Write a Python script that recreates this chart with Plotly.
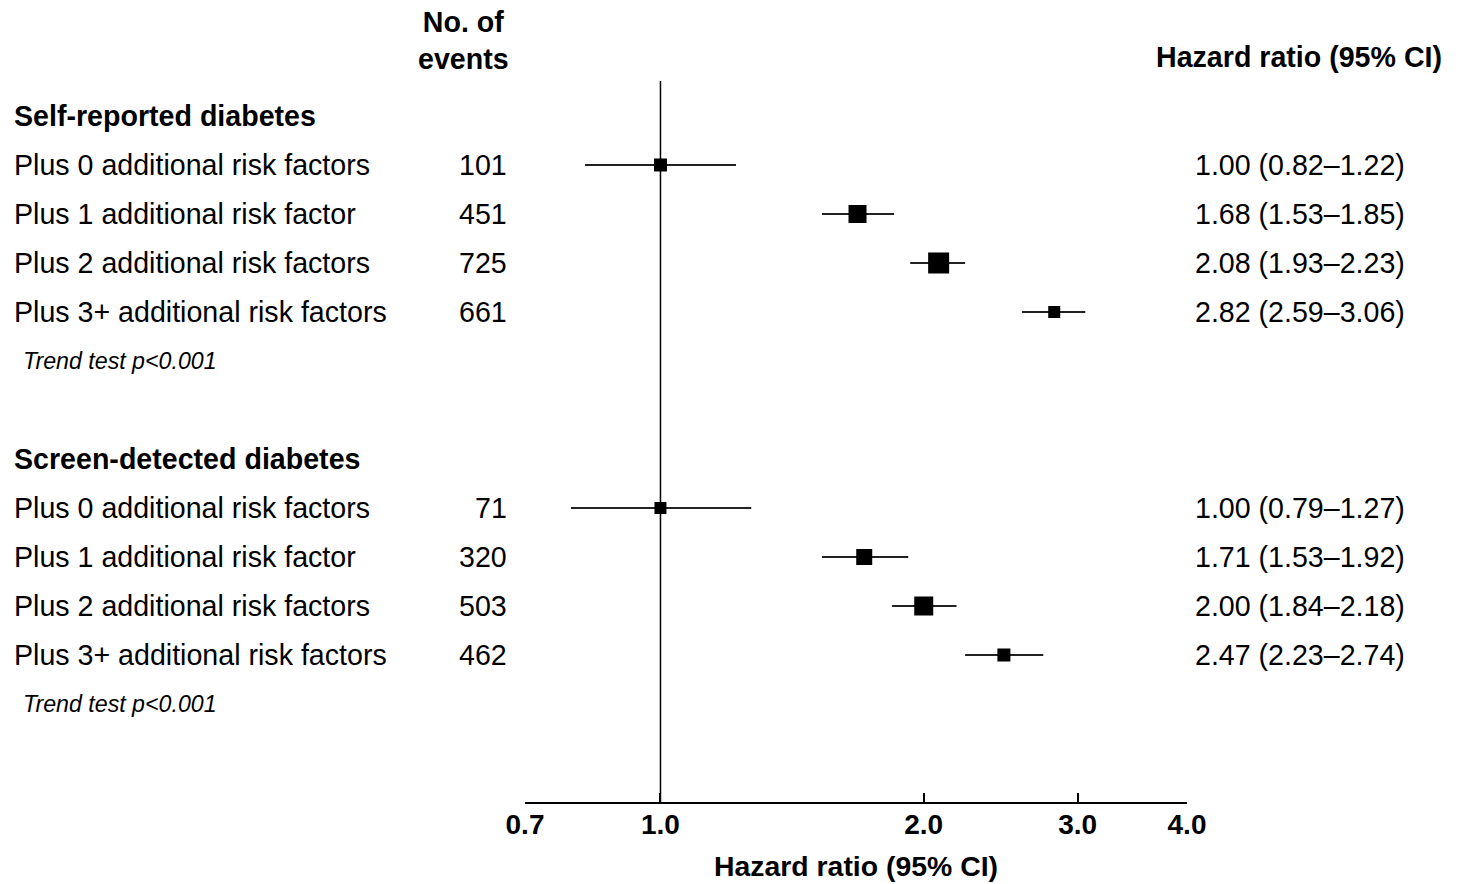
import plotly.graph_objects as go

# ---------------- data ----------------
groups = ["Self-reported diabetes", "Screen-detected diabetes"]
row_labels = ["Plus 0 additional risk factors", "Plus 1 additional risk factor",
              "Plus 2 additional risk factors", "Plus 3+ additional risk factors"]
events_sr = [101, 451, 725, 661]
hr_sr = [1.00, 1.68, 2.08, 2.82]
lo_sr = [0.82, 1.53, 1.93, 2.59]
hi_sr = [1.22, 1.85, 2.23, 3.06]
size_sr = [13, 18, 21, 12]

events_sd = [71, 320, 503, 462]
hr_sd = [1.00, 1.71, 2.00, 2.47]
lo_sd = [0.79, 1.53, 1.84, 2.23]
hi_sd = [1.27, 1.92, 2.18, 2.74]
size_sd = [12, 16, 19, 13]

trend_text = "Trend test p<0.001"
axis_title = "Hazard ratio (95% CI)"
tick_vals = [0.7, 1.0, 2.0, 3.0, 4.0]
tick_text = ["0.7", "1.0", "2.0", "3.0", "4.0"]

# row positions (row index units)
header_pos = [0, 7]
rows_sr = [1, 2, 3, 4]
rows_sd = [8, 9, 10, 11]
trend_pos = [5, 12]

FONT = "Liberation Sans, Arial, sans-serif"
FS = 28.6
W, H = 1461, 884
L, R, T, B = 525, 274, 81, 82
PW = W - L - R


def px_to_paper_x(px):
    return (px - L) / PW


def px_to_paper_y(py):
    return (H - B - py) / (H - T - B)


fig = go.Figure()

# confidence interval lines
for ys, lo, hi in [(rows_sr, lo_sr, hi_sr), (rows_sd, lo_sd, hi_sd)]:
    xs, yy = [], []
    for y, l, u in zip(ys, lo, hi):
        xs += [l, u, None]
        yy += [y, y, None]
    fig.add_trace(go.Scatter(x=xs, y=yy, mode="lines",
                             line=dict(color="#222222", width=2),
                             showlegend=False, hoverinfo="skip"))

# point estimates
for ys, hr, sz in [(rows_sr, hr_sr, size_sr), (rows_sd, hr_sd, size_sd)]:
    fig.add_trace(go.Scatter(
        x=hr, y=ys, mode="markers",
        marker=dict(symbol="square", size=sz, color="#000000", opacity=1,
                    line=dict(width=0)),
        showlegend=False, hoverinfo="skip"))

annotations = []


def add_text(text, x, y, xanchor, size=FS, yref="y", italic=False, bold=False,
             align="left", yanchor="middle"):
    if bold:
        text = "<b>" + text + "</b>"
    if italic:
        text = "<i>" + text + "</i>"
    annotations.append(dict(text=text, x=x, y=y, xref="paper", yref=yref,
                            xanchor=xanchor, yanchor=yanchor, showarrow=False,
                            align=align, font=dict(family=FONT, size=size, color="black")))


x_left = px_to_paper_x(12)
x_events = px_to_paper_x(509)
x_hr = px_to_paper_x(1407)

for g, hp in zip(groups, header_pos):
    add_text(g, x_left, hp, "left", bold=True)

for ys, ev, hr, lo, hi in [(rows_sr, events_sr, hr_sr, lo_sr, hi_sr),
                           (rows_sd, events_sd, hr_sd, lo_sd, hi_sd)]:
    for lab, y, e, h, l, u in zip(row_labels, ys, ev, hr, lo, hi):
        add_text(lab, x_left, y, "left")
        add_text(str(e), x_events, y, "right")
        add_text(f"{h:.2f} ({l:.2f}\u2013{u:.2f})", x_hr, y, "right")

for tp in trend_pos:
    add_text(trend_text, px_to_paper_x(21), tp, "left", size=23.2, italic=True)

add_text("No. of<br>events", px_to_paper_x(463), px_to_paper_y(40), "center",
         yref="paper", bold=True, align="center")
add_text("Hazard ratio (95% CI)", px_to_paper_x(1444), px_to_paper_y(57), "right",
         yref="paper", bold=True)
# x-axis title
add_text(axis_title, 0.5, px_to_paper_y(884), "center", yref="paper", bold=True,
         size=28.4, yanchor="bottom")

fig.update_layout(
    width=W, height=H,
    margin=dict(l=L, r=R, t=T, b=B, autoexpand=False),
    paper_bgcolor="white", plot_bgcolor="white",
    font=dict(family=FONT, size=FS, color="black"),
    annotations=annotations,
    shapes=[dict(type="line", xref="x", yref="paper", x0=1, x1=1, y0=0, y1=1,
                 line=dict(color="black", width=1.5), layer="below")],
    xaxis=dict(type="log", range=[-0.1549, 0.60206],
               tickvals=tick_vals, ticktext=tick_text,
               ticks="inside", ticklen=9, tickwidth=1.5, tickcolor="black",
               showline=True, linecolor="black", linewidth=1.5,
               showgrid=False, zeroline=False, automargin=False,
               ticklabelstandoff=-3,
               tickfont=dict(family=FONT, size=28, color="black", weight="bold")),
    yaxis=dict(visible=False, range=[14.0, -0.714], automargin=False),
)

fig.write_html("out.html",
               config={"displayModeBar": False},
               post_script="document.body.style.margin='0px';"
                           "document.body.style.overflow='hidden';")
